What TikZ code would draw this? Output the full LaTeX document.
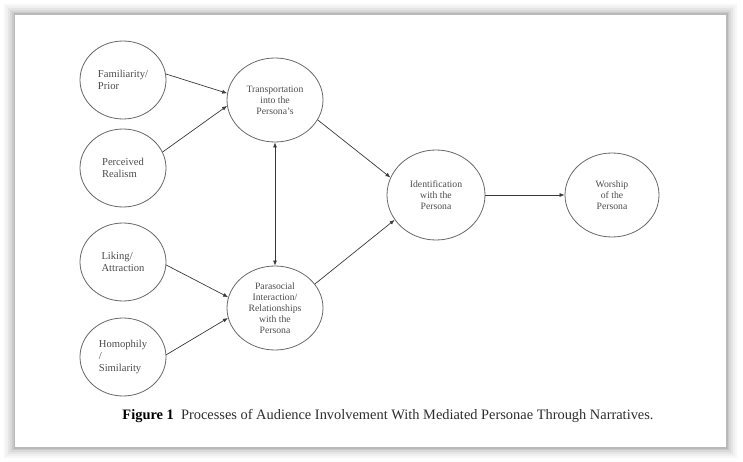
\documentclass[tikz,border=0pt]{standalone}
\usepackage{fontspec}
\setmainfont{Liberation Serif}
\usetikzlibrary{positioning,shapes.geometric,arrows.meta}

\definecolor{inkgray}{HTML}{4D4D4D}
\definecolor{linegray}{HTML}{3A3A3A}
\definecolor{capgray}{HTML}{2E2E2E}

\tikzset{
 factor/.style={ellipse, draw=inkgray!85, line width=0.8pt, minimum width=86pt,
   minimum height=78pt, inner sep=0pt, align=left, text=inkgray,
   font=\fontsize{10.6}{12}\selectfont},
 process/.style={factor, minimum width=96pt, minimum height=84pt, align=center,
   font=\fontsize{9.7}{11}\selectfont}
}

\begin{document}
\begin{tikzpicture}[x=1pt, y=-1pt, on grid, auto, >={Latex[length=5pt,width=4pt]}]
 \useasboundingbox (0,0) rectangle (743,462);
 % frame with soft shadow
 \foreach \d/\c in {11/6,9/12,7/20,5/30,3/42,1.5/55}
  \fill[gray!\c] (15-\d,15-\d) rectangle (726+\d,447+\d);
 \fill[white] (15,15) rectangle (726,447);

	\node[factor] (fam) at (123,80) {Familiarity/\\Prior};
 \node[factor] (real) [below=88pt of fam] {Perceived\\Realism};
 \node[factor] (lik) [below=94pt of real] {Liking/\\Attraction};
 \node[factor] (homo) [below=95pt of lik] {Homophily\\/\\Similarity};
 \node[process] (trans) [below right=20pt and 152pt of fam] {Transportation\\into the\\Persona’s};
 \node[process] (para) [below=208pt of trans] {Parasocial\\Interaction/\\Relationships\\with the\\Persona};
 \node[process, minimum width=98pt, minimum height=90pt] (ident) [below right=95pt and 161pt of trans] {Identification\\with the\\Persona};
 \node[process, minimum width=94pt] (wor) [right=176pt of ident] {Worship\\of the\\Persona};

 \node (cap) at (388,416) {\fontsize{14.4}{16}\selectfont\textbf{Figure 1}\hspace{0.5em}\textcolor{capgray}{Processes of Audience Involvement With Mediated Personae Through Narratives.}};

\begin{scope}[every edge/.style={draw=linegray, line width=0.7pt}]
 \path [->] (fam.8) edge (trans.172);
 \path [->] (real.22) edge (trans.187);
 \path [->] (lik.356) edge (para.167);
 \path [->] (homo.3) edge (para.192);
 \path [<->] (trans) edge (para);
 \path [->] (trans.335) edge (ident.159);
 \path [->] (para.31) edge (ident.211);
 \path [->] (ident) edge (wor);
\end{scope}
\end{tikzpicture}
\end{document}
